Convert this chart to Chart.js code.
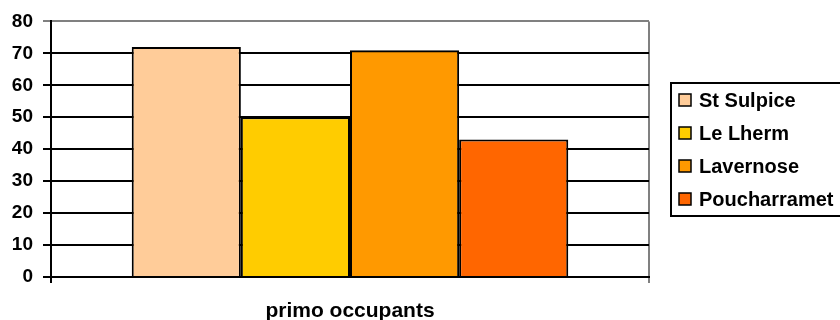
<!DOCTYPE html>
<html>
  <head>
    <style>
      * {
        margin: 0;
        padding: 0;
      }
      body {
        background: #ffffff;
        overflow: hidden;
      }
      .chartBox {
        width: 840px;
        height: 320px;
      }
    </style>
  </head>
  <body>
    <div class="chartBox">
      <canvas id="myChart" width="840" height="320"></canvas>
    </div>
    <script src="https://cdn.jsdelivr.net/npm/chart.js/dist/chart.umd.min.js"></script>
    <script>
      // data
      const categories = ["primo occupants"];
      const seriesNames = ["St Sulpice", "Le Lherm", "Lavernose", "Poucharramet"];
      const stSulpice = [72];
      const leLherm = [50];
      const lavernose = [71];
      const poucharramet = [43];
      const seriesColors = ["#FFCC99", "#FFCC00", "#FF9900", "#FF6600"];
      const yMin = 0;
      const yMax = 80;
      const yStep = 10;

      const family = "'Liberation Sans', Arial, sans-serif";

      const seriesValues = [stSulpice, leLherm, lavernose, poucharramet];
      const data = {
        labels: categories,
        datasets: seriesNames.map((name, i) => ({
          label: name,
          data: seriesValues[i],
          backgroundColor: seriesColors[i],
          borderColor: "#000000",
          borderWidth: 2,
          borderSkipped: "start",
          barPercentage: 1,
          categoryPercentage: 0.73,
        })),
      };

      // legend with a frame, drawn from the datasets
      const framedLegend = {
        id: "framedLegend",
        afterDraw(chart) {
          const ctx = chart.ctx;
          ctx.save();
          ctx.strokeStyle = "#000000";
          ctx.lineWidth = 2;
          ctx.strokeRect(671, 83, 200, 133);
          ctx.font = "bold 20px " + family;
          ctx.textBaseline = "middle";
          chart.data.datasets.forEach((ds, i) => {
            const cy = 100 + i * 33;
            ctx.fillStyle = ds.backgroundColor;
            ctx.fillRect(679, cy - 6, 12, 12);
            ctx.lineWidth = 1.5;
            ctx.strokeRect(679, cy - 6, 12, 12);
            ctx.fillStyle = "#000000";
            ctx.fillText(ds.label, 699, cy + 1);
          });
          ctx.restore();
        },
      };

      // config
      const config = {
        type: "bar",
        data,
        options: {
          responsive: false,
          animation: false,
          layout: { padding: { top: 20, right: 191, left: 0, bottom: 0 } },
          plugins: {
            legend: { display: false },
            tooltip: { enabled: false },
          },
          scales: {
            x: {
              grid: {
                color: (c) => (c.index === 0 ? "#000000" : "#808080"),
                lineWidth: 2,
                tickLength: 6,
              },
              border: { color: "#000000", width: 2 },
              ticks: { color: "#000000", font: { family, size: 21, weight: "bold" }, padding: 16 },
              afterFit: (scale) => {
                scale.height = 43;
              },
            },
            y: {
              min: yMin,
              max: yMax,
              ticks: { stepSize: yStep, color: "#000000", font: { family, size: 19, weight: "bold" }, padding: 10 },
              grid: {
                color: (c) => (c.tick && c.tick.value === yMax ? "#808080" : "#000000"),
                lineWidth: 2,
                tickLength: 8,
              },
              border: { color: "#000000", width: 2 },
              afterFit: (scale) => {
                scale.width = 51;
              },
            },
          },
        },
        plugins: [framedLegend],
      };

      // render init block
      const myChart = new Chart(document.getElementById("myChart"), config);
    </script>
  </body>
</html>
